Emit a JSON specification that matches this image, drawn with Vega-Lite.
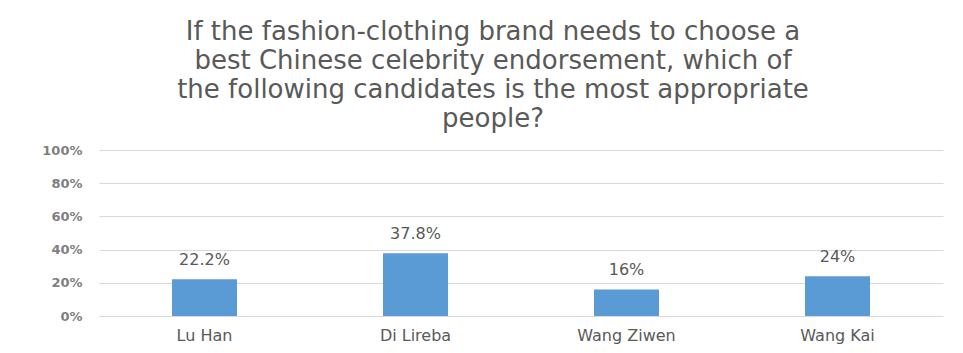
{
  "$schema": "https://vega.github.io/schema/vega-lite/v6.json",
  "autosize": "none",
  "width": 844,
  "height": 166,
  "padding": {"left": 99, "top": 150, "right": 20, "bottom": 37},
  "background": "white",
  "config": {"view": {"stroke": null}},
  "title": {
    "text": ["If the fashion-clothing brand needs to choose a", "best Chinese celebrity endorsement, which of", "the following candidates is the most appropriate", "people?"],
    "fontSize": 26,
    "font": "DejaVu Sans",
    "fontWeight": "normal",
    "color": "#595959",
    "lineHeight": 29,
    "anchor": "middle",
    "dx": -28,
    "offset": 12
  },
  "data": {"values": [
    {"name": "Lu Han", "value": 0.222},
    {"name": "Di Lireba", "value": 0.378},
    {"name": "Wang Ziwen", "value": 0.16},
    {"name": "Wang Kai", "value": 0.24}
  ]},
  "encoding": {
    "x": {"field": "name", "type": "nominal", "sort": null,
      "scale": {"paddingInner": 0, "paddingOuter": 0},
      "axis": {"title": null, "labelAngle": 0, "domain": false, "ticks": false, "labelFont": "DejaVu Sans", "labelFontSize": 16, "labelColor": "#595959", "labelPadding": 11}},
    "y": {"field": "value", "type": "quantitative",
      "scale": {"domain": [0, 1]},
      "axis": {"title": null, "values": [0, 0.2, 0.4, 0.6, 0.8, 1], "format": ".0%", "domain": false, "ticks": false, "labelFont": "DejaVu Sans", "labelFontSize": 13, "labelFontWeight": "bold", "labelColor": "#7f7f7f", "labelPadding": 17, "gridColor": "#d9d9d9", "gridWidth": 1}}
  },
  "layer": [
    {"mark": {"type": "bar", "width": 65, "color": "#5b9bd5"}},
    {"mark": {"type": "text", "dy": -11, "baseline": "bottom", "font": "DejaVu Sans", "fontSize": 16, "color": "#595959"},
     "encoding": {"text": {"field": "value", "type": "quantitative", "format": ".3~%"}}}
  ]
}
